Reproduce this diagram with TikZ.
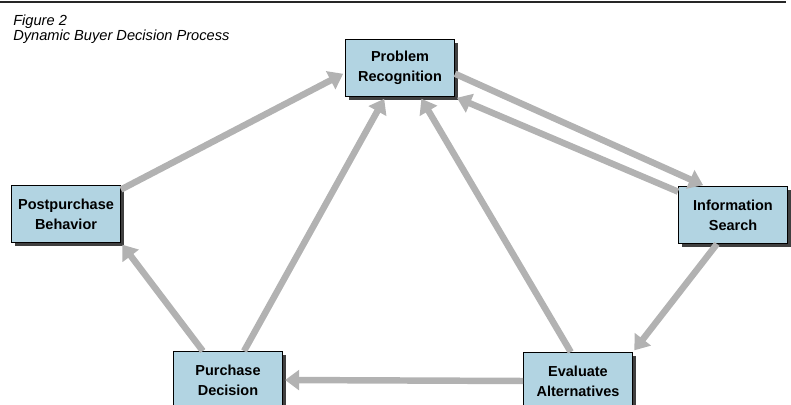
\documentclass[tikz,border=0pt]{standalone}
\usepackage{fontspec}
\setmainfont{Liberation Sans}
\usetikzlibrary{arrows.meta,shadows}
\definecolor{boxblue}{RGB}{178,212,226}
\definecolor{flowgray}{RGB}{178,178,178}

\begin{document}
\begin{tikzpicture}[
  x=0.025cm, y=-0.025cm,
  box/.style={draw=black, line width=0.7pt, fill=boxblue, align=center,
    minimum width=77.5pt, minimum height=40.5pt, inner sep=2pt,
    font=\fontsize{10.3}{14}\selectfont\bfseries,
    drop shadow={shadow xshift=2.8pt, shadow yshift=-2.8pt, fill=black!75, opacity=1}},
  flow/.style={draw=flowgray, line width=4.6pt, -{Triangle[width=14pt,length=10pt]}, shorten >=1.5pt},
  figcap/.style={anchor=base west, inner sep=0pt, font=\fontsize{10.4}{12}\selectfont\itshape},
]
  \clip (0,0) rectangle (791,405);

  % caption and top rule
  \draw[line width=1.4pt, black!85] (0,2) -- (786,2);
  \node[figcap] (fignum) at (13,26) {Figure 2};
  \node[figcap] (figtitle) at (13,41) {Dynamic Buyer Decision Process};

  % stages
  \node[box] (prob)  at (400,68)  {Problem\\Recognition};
  \node[box] (post)  at (66,214)  {Postpurchase\\Behavior};
  \node[box] (info)  at (733,215) {Information\\Search};
  \node[box] (purch) at (228,380) {Purchase\\Decision};
  \node[box] (eval)  at (578,381) {Evaluate\\Alternatives};

  % flows
  \draw[flow] (prob.-6) -- (info.134);
  \draw[flow] (info.157) -- (prob.south east);
  \draw[flow] (info.241) -- (eval.north east);
  \draw[flow] (eval.west) -- (purch.east);
  \draw[flow] (eval.104) -- (prob.305);
  \draw[flow] (purch.61) -- (prob.243);
  \draw[flow] (purch.131) -- (post.south east);
  \draw[flow] (post.24) -- (prob.185);
\end{tikzpicture}
\end{document}
